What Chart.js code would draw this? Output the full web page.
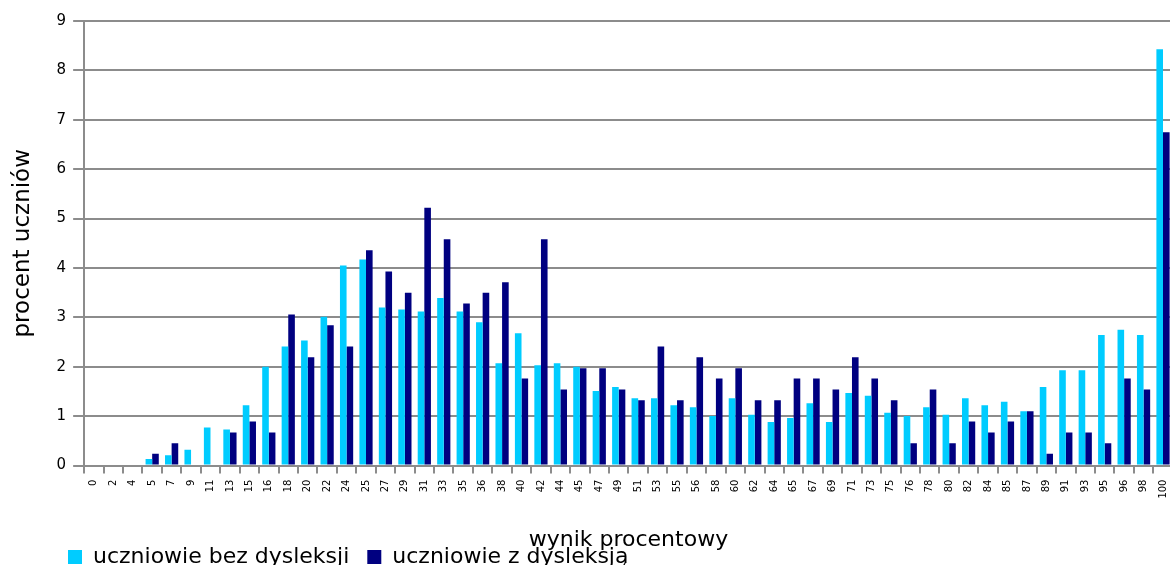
<!DOCTYPE html>
<html>
<head>
<meta charset="utf-8">
<script src="https://cdn.jsdelivr.net/npm/chart.js@4"></script>
<style>
html,body{margin:0;padding:0;overflow:hidden;background:#fff;}
#wrap{position:relative;width:1181px;height:603px;}
</style>
</head>
<body>
<div id="wrap"><canvas id="c"></canvas></div>
<script>
const categories = ['0','2','4','5','7','9','11','13','15','16','18','20','22','24','25','27','29','31','33','35','36','38','40','42','44','45','47','49','51','53','55','56','58','60','62','64','65','67','69','71','73','75','76','78','80','82','84','85','87','89','91','93','95','96','98','100'];
const bezDysleksji = [0.02,0.02,0.02,0.13,0.21,0.32,0.77,0.73,1.22,2.0,2.41,2.53,3.01,4.05,4.17,3.2,3.16,3.12,3.39,3.12,2.9,2.07,2.68,2.03,2.07,2.0,1.51,1.59,1.36,1.36,1.22,1.18,1.0,1.36,1.03,0.88,0.96,1.26,0.88,1.47,1.41,1.07,1.0,1.18,1.03,1.36,1.22,1.29,1.1,1.59,1.93,1.93,2.64,2.75,2.64,8.43];
const zDysleksja = [0.02,0.02,0.02,0.24,0.45,0.02,0.02,0.67,0.89,0.67,3.06,2.19,2.84,2.41,4.36,3.93,3.5,5.22,4.58,3.28,3.5,3.71,1.76,4.58,1.54,1.97,1.97,1.54,1.32,2.41,1.32,2.19,1.76,1.97,1.32,1.32,1.76,1.76,1.54,2.19,1.76,1.32,0.45,1.54,0.45,0.89,0.67,0.89,1.1,0.24,0.67,0.67,0.45,1.76,1.54,6.75];
const seriesNames = ['uczniowie bez dysleksji','uczniowie z dysleksją'];
const yTicks = [0,1,2,3,4,5,6,7,8,9];

const FONT = "'DejaVu Sans', sans-serif";
const GRID = '#8c8c8c';

const legendShift = {
  id: 'legendShift',
  afterLayout(chart) {
    const l = chart.legend;
    if (!l) return;
    const dx = 50, dy = -25;
    l.left += dx; l.right += dx; l.top += dy; l.bottom += dy;
  }
};

new Chart(document.getElementById('c'), {
  type: 'bar',
  data: {
    labels: categories,
    datasets: [
      { label: seriesNames[0], data: bezDysleksji, backgroundColor: '#00ccff', borderWidth: 0 },
      { label: seriesNames[1], data: zDysleksja, backgroundColor: '#000080', borderWidth: 0 }
    ]
  },
  options: {
    responsive: true,
    maintainAspectRatio: false,
    animation: false,
    categoryPercentage: 0.68,
    barPercentage: 1.0,
    layout: { padding: { top: 21, right: 0, left: 0, bottom: 0 } },
    plugins: {
      tooltip: { enabled: false },
      legend: {
        position: 'bottom',
        align: 'start',
        labels: {
          font: { family: FONT, size: 22 },
          color: '#000',
          boxWidth: 14,
          boxHeight: 14,
          padding: 18
        }
      }
    },
    scales: {
      x: {
        grid: { drawOnChartArea: false, drawTicks: true, tickLength: 8, color: GRID, lineWidth: 2 },
        border: { display: true, color: GRID, width: 2 },
        ticks: {
          autoSkip: false, maxRotation: 90, minRotation: 90,
          font: { family: FONT, size: 10 }, color: '#000', padding: 6
        },
        title: {
          display: true, text: 'wynik procentowy',
          font: { family: FONT, size: 22 }, color: '#000',
          padding: { top: 22, bottom: 0 }
        }
      },
      y: {
        min: 0, max: 9,
        afterBuildTicks(scale) { scale.ticks = yTicks.map(v => ({ value: v })); },
        grid: { color: GRID, lineWidth: 2, tickLength: 11, drawTicks: true },
        border: { display: true, color: GRID, width: 2 },
        ticks: { font: { family: FONT, size: 15 }, color: '#000', padding: 7 },
        title: {
          display: true, text: 'procent uczniów',
          font: { family: FONT, size: 23 }, color: '#000',
          padding: { top: 9, bottom: 13 }
        }
      }
    }
  },
  plugins: [legendShift]
});
</script>
</body>
</html>
